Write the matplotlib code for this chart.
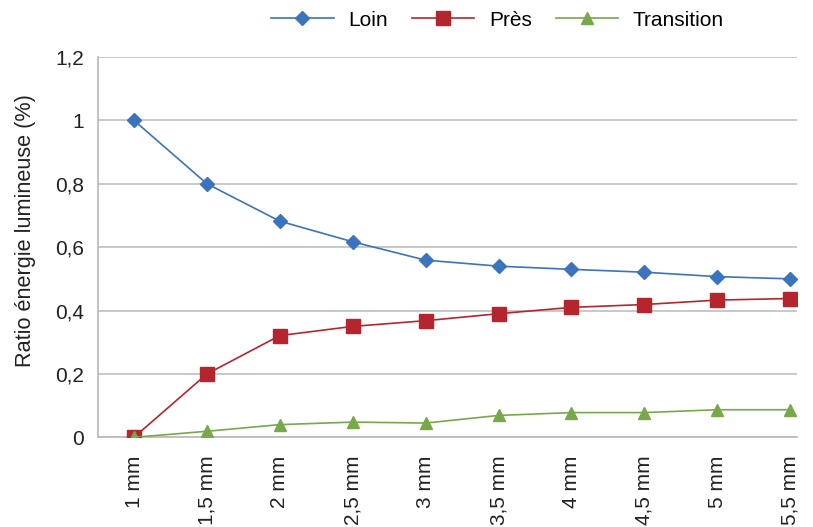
import matplotlib
matplotlib.use("Agg")
import matplotlib.pyplot as plt

plt.rcParams['font.family'] = ['Liberation Sans', 'DejaVu Sans']

categories = ["1 mm", "1,5 mm", "2 mm", "2,5 mm", "3 mm",
              "3,5 mm", "4 mm", "4,5 mm", "5 mm", "5,5 mm"]
loin = [1.0, 0.80, 0.682, 0.617, 0.559, 0.540, 0.530, 0.521, 0.507, 0.500]
pres = [0.0, 0.20, 0.321, 0.350, 0.368, 0.390, 0.410, 0.419, 0.433, 0.438]
transition = [0.0, 0.019, 0.040, 0.048, 0.045, 0.069, 0.078, 0.078, 0.087, 0.087]
y_ticks = [0, 0.2, 0.4, 0.6, 0.8, 1.0, 1.2]
y_tick_labels = ["0", "0,2", "0,4", "0,6", "0,8", "1", "1,2"]

FS = 15
TXT = "#222222"

fig = plt.figure(figsize=(8.13, 5.27), dpi=100)
ax = fig.add_axes([0.12, 0.1702, 0.8604, 0.7216])

x = list(range(len(categories)))
ax.plot(x, loin, color="#3b73be", lw=1.2, marker="D", ms=7.5,
        mec="#3b73be", mfc="#3b73be", label="Loin", zorder=3)
ax.plot(x, pres, color="#b5252d", lw=1.2, marker="s", ms=9.5,
        mec="#b5252d", mfc="#b5252d", label="Près", zorder=4)
ax.plot(x, transition, color="#77a84a", lw=1.2, marker="^", ms=9,
        mec="#77a84a", mfc="#77a84a", label="Transition", zorder=5)

ax.set_xlim(-0.5, 9.095)
ax.set_ylim(0, 1.2)
ax.set_yticks(y_ticks)
ax.set_yticklabels(y_tick_labels, fontsize=FS, color=TXT)
ax.set_xticks(x)
ax.set_xticklabels(categories, rotation=90, fontsize=FS, color=TXT,
                   va="top", ha="center")
ax.tick_params(axis="both", length=0)
ax.tick_params(axis="y", pad=10)
ax.tick_params(axis="x", pad=13)

ax.grid(axis="y", color="#c4c4c4", lw=1.3)
ax.set_axisbelow(True)
for side in ("top", "right"):
    ax.spines[side].set_visible(False)
for side in ("left", "bottom"):
    ax.spines[side].set_color("#bdbdbd")
    ax.spines[side].set_linewidth(1.3)

ax.set_ylabel("Ratio énergie lumineuse (%)", fontsize=15.6, color=TXT)
ax.yaxis.set_label_coords(-0.088, 0.5425)

fig.legend(loc="center", bbox_to_anchor=(0.612, 0.962), ncol=3,
           frameon=False, fontsize=FS, handlelength=3.0,
           handletextpad=0.7, columnspacing=1.15, markerscale=1.0)

fig.savefig("out.png", dpi=100)
